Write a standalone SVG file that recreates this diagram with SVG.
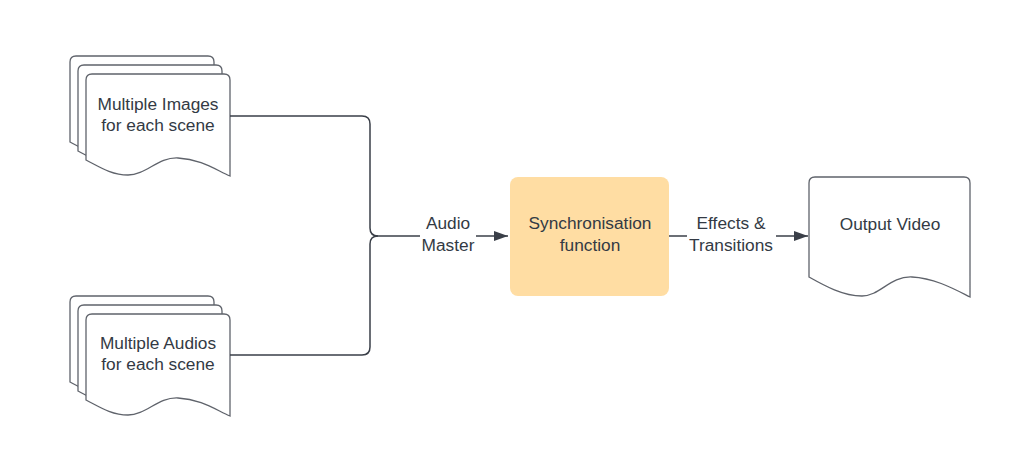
<svg xmlns="http://www.w3.org/2000/svg" width="1030" height="457" viewBox="0 0 1030 457">
<defs>
<style>
.doc{fill:#ffffff;stroke:#5f636b;stroke-width:1.3;}
.conn{fill:none;stroke:#3a3f48;stroke-width:1.5;}
.t{font-family:"Liberation Sans",Arial,sans-serif;font-size:17.3px;fill:#333a44;text-anchor:middle;}
</style>
<marker id="arr" markerWidth="16" markerHeight="12" refX="14" refY="6" orient="auto" markerUnits="userSpaceOnUse">
<path d="M0,1 L14,6 L0,11 Z" fill="#3a3f48"/>
</marker>
<path id="sheet" d="M6,0 H138 Q144,0 144,6 V102 C130,96 115,85 92,84 C72,83 60,101 42,101 C25,101 12,92 0,86 V6 Q0,0 6,0 Z"/>
</defs>
<rect width="1030" height="457" fill="#ffffff"/>
<g id="images">
<use href="#sheet" x="70" y="56" class="doc"/>
<use href="#sheet" x="78" y="65" class="doc"/>
<use href="#sheet" x="86" y="74" class="doc"/>
<text class="t" x="158" y="110">Multiple Images</text>
<text class="t" x="158" y="131">for each scene</text>
</g>
<g id="audios">
<use href="#sheet" x="70" y="296" class="doc"/>
<use href="#sheet" x="78" y="305" class="doc"/>
<use href="#sheet" x="86" y="314" class="doc"/>
<text class="t" x="158" y="349">Multiple Audios</text>
<text class="t" x="158" y="370">for each scene</text>
</g>
<g id="sync">
<rect x="510" y="177" width="159" height="119" rx="8" fill="#ffdda3"/>
<text class="t" x="590" y="229">Synchronisation</text>
<text class="t" x="590" y="251">function</text>
</g>
<g id="output">
<path class="doc" d="M815,177 H964 Q970,177 970,183 V297 C956,290 935,278 912,277 C890,276 880,296 862,296 C843,296 825,286 809,277 V183 Q809,177 815,177 Z"/>
<text class="t" x="890" y="230">Output Video</text>
</g>
<g id="connectors">
<path class="conn" d="M230,116 H362 Q370,116 370,124 V228 Q370,236 378,236"/>
<path class="conn" d="M230,355 H362 Q370,355 370,347 V244 Q370,236 378,236"/>
<path class="conn" d="M378,236 H420"/>
<path class="conn" d="M476,236 H508" marker-end="url(#arr)"/>
<text class="t" x="448" y="229">Audio</text>
<text class="t" x="448" y="251">Master</text>
<path class="conn" d="M669,236 H687"/>
<path class="conn" d="M776,236 H808" marker-end="url(#arr)"/>
<text class="t" x="731" y="229">Effects &amp;</text>
<text class="t" x="731" y="251">Transitions</text>
</g>
</svg>
